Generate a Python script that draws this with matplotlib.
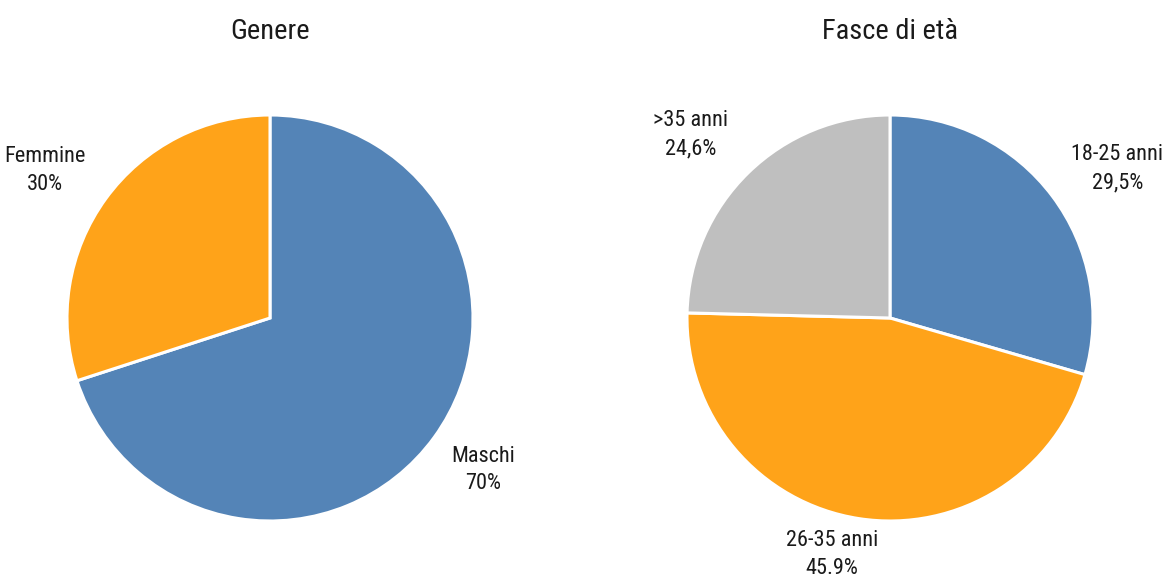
import numpy as np
import matplotlib
matplotlib.use("Agg")
import matplotlib.pyplot as plt
from matplotlib import font_manager

names = {f.name for f in font_manager.fontManager.ttflist}
cands = ['Liberation Sans Narrow', 'Roboto Condensed', 'Open Sans Condensed', 'Noto Sans Condensed',
         'DejaVu Sans Condensed', 'Liberation Sans']
main = next(c for c in cands if c in names or c == 'Liberation Sans')
plt.rcParams['font.family'] = [main, 'DejaVu Sans']

# Data
gender_labels = ["Maschi", "Femmine"]
gender_values = [70, 30]
gender_pct = ["70%", "30%"]

age_labels = ["18-25 anni", "26-35 anni", ">35 anni"]
age_values = [29.5, 45.9, 24.6]
age_pct = ["29,5%", "45.9%", "24,6%"]

BLUE = "#5484B7"
ORANGE = "#FFA319"
GREY = "#BFBFBF"

W, H = 1167, 577
fig = plt.figure(figsize=(W / 100, H / 100), dpi=100)

def make_ax(cx, cy, r):
    return fig.add_axes([(cx - r) / W, (H - cy - r) / H, 2 * r / W, 2 * r / H])

def draw(ax, values, labels, pcts, colors, place, title):
    wedges, _ = ax.pie(values, colors=colors, startangle=90, counterclock=False,
                       wedgeprops=dict(edgecolor="white", linewidth=2.2))
    ax.set_xlim(-1, 1)
    ax.set_ylim(-1, 1)
    ax.set_aspect("equal")
    ax.axis("off")
    for w, lab, p, (d, off) in zip(wedges, labels, pcts, place):
        ang = np.deg2rad((w.theta1 + w.theta2) / 2 + off)
        ax.text(d * np.cos(ang), d * np.sin(ang), f"{lab}\n{p}", ha="center", va="center",
                fontsize=16, linespacing=1.42, color="#1a1a1a", clip_on=False)
    ax.text(0, 1.41, title, ha="center", va="center", fontsize=20.5, color="#1a1a1a")

ax1 = make_ax(270, 318, 203)
draw(ax1, gender_values, gender_labels, gender_pct, [BLUE, ORANGE],
     [(1.29, 0.5), (1.325, 2.8)], "Genere")

ax2 = make_ax(890, 318, 203)
draw(ax2, age_values, age_labels, age_pct, [BLUE, ORANGE, GREY],
     [(1.34, -3.6), (1.20, -5.0), (1.335, 3.2)], "Fasce di età")

fig.savefig("out.png", dpi=100, facecolor="white")
